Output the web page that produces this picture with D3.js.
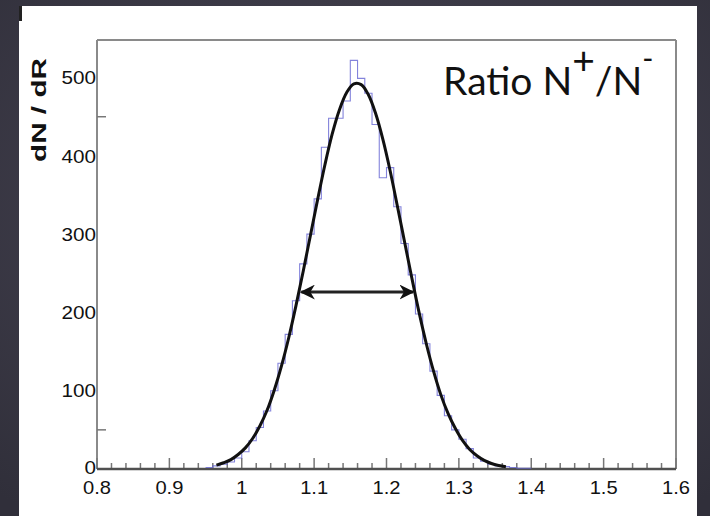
<!DOCTYPE html>
<html>
<head>
<meta charset="utf-8">
<script src="https://cdn.jsdelivr.net/npm/d3@7"></script>
<style>
  html, body { margin: 0; padding: 0; background: #3a3945; }
  svg { display: block; }
</style>
</head>
<body>
<svg id="chart" width="710" height="516"></svg>
<script>
// ---------- data ----------
const binEdges = [0.95,0.96,0.97,0.98,0.99,1.00,1.01,1.02,1.03,1.04,1.05,1.06,1.07,1.08,1.09,
                  1.10,1.11,1.12,1.13,1.14,1.15,1.16,1.17,1.18,1.19,1.20,1.21,1.22,1.23,1.24,
                  1.25,1.26,1.27,1.28,1.29,1.30,1.31,1.32,1.33,1.34,1.35,1.36,1.37,1.38,1.39,1.40];
const binCounts = [2,4,6,9,14,22,36,53,74,100,135,172,215,262,300,
                   345,411,448,448,470,522,499,480,440,372,385,335,288,248,198,
                   160,125,94,68,50,38,26,14,10,6,4,3,2,1,1];

const fitX = [0.965,0.975,0.985,0.995,1.005,1.015,1.025,1.035,1.045,1.055,1.065,1.075,1.085,1.095,
              1.105,1.115,1.125,1.135,1.145,1.155,1.165,1.175,1.185,1.195,1.205,1.215,1.225,1.235,
              1.245,1.255,1.265,1.275,1.285,1.295,1.305,1.315,1.325,1.335,1.345,1.355,1.365];
const fitY = [5,8,12,18.5,27,39,55,75,101,132,168,209,253,299,
              345,389,428,459,481,492,491,478,454,421,381,336,290,244,
              200,160,125,95,71,52,36.5,25,17,11,7,4.5,2.8];

const fwhmX = [1.081, 1.238];
const fwhmY = 226;

const xMajorTicks = [0.8,0.9,1.0,1.1,1.2,1.3,1.4,1.5,1.6];
const xTickLabels = ["0.8","0.9","1","1.1","1.2","1.3","1.4","1.5","1.6"];
const xMinorTicks = [0.82,0.84,0.86,0.88,0.92,0.94,0.96,0.98,1.02,1.04,1.06,1.08,1.12,1.14,1.16,1.18,
                     1.22,1.24,1.26,1.28,1.32,1.34,1.36,1.38,1.42,1.44,1.46,1.48,1.52,1.54,1.56,1.58];
const yLabelTicks = [0,100,200,300,400,500];
const yMinorTicks = [50,450];

// ---------- drawing ----------
const svg = d3.select("#chart");
const defs = svg.append("defs");
const grad = defs.append("radialGradient").attr("id","bg").attr("cx","50%").attr("cy","40%").attr("r","75%");
grad.append("stop").attr("offset","0%").attr("stop-color","#4a4756");
grad.append("stop").attr("offset","100%").attr("stop-color","#302f3a");
svg.append("rect").attr("width",710).attr("height",516).attr("fill","url(#bg)");

// white panel
svg.append("rect").attr("x",19).attr("y",6).attr("width",678).attr("height",510).attr("fill","#ffffff");
svg.append("rect").attr("x",19).attr("y",6).attr("width",3).attr("height",15).attr("fill","#222");

const x = d3.scaleLinear().domain([0.8,1.6]).range([97,676]);
const y = d3.scaleLinear().domain([0,548]).range([469,40]);

// frame (top/right/left grey)
const fr = svg.append("g").attr("stroke","#8a8a8a").attr("stroke-width",2).attr("fill","none");
fr.append("line").attr("x1",x(0.8)).attr("x2",x(1.6)).attr("y1",y(548)).attr("y2",y(548));
fr.append("line").attr("x1",x(1.6)).attr("x2",x(1.6)).attr("y1",y(548)).attr("y2",y(0));
fr.append("line").attr("x1",x(0.8)).attr("x2",x(0.8)).attr("y1",y(548)).attr("y2",y(0));

// ticks (inward)
const tk = svg.append("g").attr("stroke","#777").attr("stroke-width",1.5);
xMinorTicks.forEach(v => tk.append("line").attr("x1",x(v)).attr("x2",x(v)).attr("y1",y(0)).attr("y2",y(0)-6));
xMajorTicks.forEach(v => tk.append("line").attr("x1",x(v)).attr("x2",x(v)).attr("y1",y(0)).attr("y2",y(0)-11));
yMinorTicks.forEach(v => tk.append("line").attr("x1",x(0.8)).attr("x2",x(0.8)+9).attr("y1",y(v)).attr("y2",y(v)));

// bottom axis line
svg.append("line").attr("x1",x(0.8)).attr("x2",x(1.6)).attr("y1",y(0)).attr("y2",y(0))
  .attr("stroke","#505050").attr("stroke-width",2.5);

const lblWidth = s => s.split("").reduce((a,c)=>a+(c==="."?5:11.5),0);

// x tick labels
svg.append("g").selectAll("text").data(xMajorTicks).join("text")
  .attr("x",d=>x(d)).attr("y",494)
  .attr("text-anchor","middle")
  .attr("font-family","'Liberation Sans', Arial, sans-serif")
  .attr("font-size",19).attr("fill","#111")
  .attr("textLength",(d,i)=>lblWidth(xTickLabels[i])).attr("lengthAdjust","spacingAndGlyphs")
  .text((d,i)=>xTickLabels[i]);

// y tick labels
svg.append("g").selectAll("text").data(yLabelTicks).join("text")
  .attr("x",x(0.8)-1).attr("y",d=>y(d)-(d===0?2:0)).attr("dy","0.35em")
  .attr("text-anchor","end")
  .attr("font-family","'Liberation Sans', Arial, sans-serif")
  .attr("font-size",19).attr("fill","#111")
  .attr("textLength",d=>lblWidth(String(d))).attr("lengthAdjust","spacingAndGlyphs")
  .text(d=>d);

// y axis title
svg.append("text")
  .attr("transform","translate(46,110) rotate(-90)")
  .attr("text-anchor","middle")
  .attr("font-family","'Liberation Sans', Arial, sans-serif")
  .attr("font-weight","bold").attr("font-size",20).attr("fill","#111")
  .attr("textLength",104).attr("lengthAdjust","spacingAndGlyphs")
  .text("dN / dR");

// histogram (step)
const histPts = binCounts.map((c,i)=>[binEdges[i],c]);
histPts.push([binEdges[binEdges.length-1], binCounts[binCounts.length-1]]);
const stepLine = d3.line().x(d=>x(d[0])).y(d=>y(d[1])).curve(d3.curveStepAfter);
svg.append("path").attr("d",stepLine(histPts))
  .attr("fill","none").attr("stroke","#6464d2").attr("stroke-width",1.1).attr("opacity",0.8);

// fit curve
const fitLine = d3.line().x((d,i)=>x(fitX[i])).y(d=>y(d)).curve(d3.curveCatmullRom);
svg.append("path").attr("d",fitLine(fitY))
  .attr("fill","none").attr("stroke","#111").attr("stroke-width",3);

// FWHM arrow
const ah = defs.append("marker").attr("id","ah").attr("viewBox","0 0 10 10")
  .attr("refX",9).attr("refY",5).attr("markerWidth",5).attr("markerHeight",5)
  .attr("orient","auto-start-reverse").attr("markerUnits","strokeWidth");
ah.append("path").attr("d","M0,0 L10,5 L0,10 L3,5 Z").attr("fill","#111");
svg.append("line")
  .attr("x1",x(fwhmX[0])+1).attr("x2",x(fwhmX[1])-1).attr("y1",y(fwhmY)).attr("y2",y(fwhmY))
  .attr("stroke","#222").attr("stroke-width",3)
  .attr("marker-start","url(#ah)").attr("marker-end","url(#ah)");

// title text
const t = svg.append("text").attr("x",443).attr("y",95)
  .attr("font-family","Lato, 'Open Sans', sans-serif").attr("font-size",39).attr("fill","#111");
t.append("tspan").text("Ratio N");
t.append("tspan").attr("dy",-21).text("+");
t.append("tspan").attr("dy",21).text("/N");
t.append("tspan").attr("dy",-26).attr("font-size",30).text("-");
</script>
</body>
</html>
